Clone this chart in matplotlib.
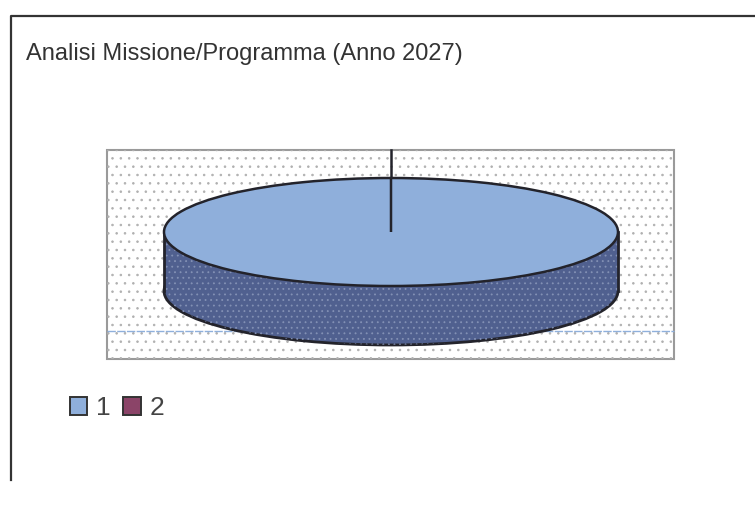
#!/usr/bin/env python3
"""Analisi Missione/Programma - scanned 3D pie look"""

import matplotlib.pyplot as plt
from matplotlib.patches import Rectangle

plt.rcParams['font.family'] = ['Liberation Sans', 'DejaVu Sans']
plt.rcParams['hatch.linewidth'] = 0.6

# dati
categories = ['1', '2']
values = [100, 0]
colors = ['#8fafdb', '#8b4468']
title = 'Analisi Missione/Programma (Anno 2027)'

W, H = 755, 507
DARK = '#23232b'
SIDE = '#50608f'
SPECK = '#8391b5'

fig = plt.figure(figsize=(W / 100, H / 100), dpi=100, facecolor='white')


def px_axes(x0, y0, x1, y1):
    # assi posizionati in pixel, origine in alto a sinistra
    return fig.add_axes([x0 / W, 1 - y1 / H, (x1 - x0) / W, (y1 - y0) / H])


# cornice esterna e titolo
bg = fig.add_axes([0, 0, 1, 1])
bg.set_xlim(0, W)
bg.set_ylim(H, 0)
bg.axis('off')
bg.plot([11, 11, W], [480, 16, 16], color='#333333', lw=1.6)
bg.text(26, 54, title, fontsize=17, color='#333333', va='center', ha='left')

# area del grafico con trama puntinata
bg.add_patch(Rectangle((107, 150), 567, 209, facecolor='white',
                       edgecolor='#9a9a9a', lw=1.5, zorder=1))
bg.add_patch(Rectangle((107, 150), 567, 209, facecolor='none',
                       edgecolor='#b0b0b0', hatch='..', lw=0, zorder=1.1))
bg.plot([107, 674], [331, 331], color='#8fb0dc', lw=1, ls=(0, (6, 1)), zorder=1.2)
bg.plot([391, 391], [150, 180], color=DARK, lw=1.8, zorder=1.3)

# torta: ellisse superiore 164-618 x 178-286, spessore 59 px
ax = px_axes(164, 178, 618, 286)
depth = 59 / 54

ax.pie(values, colors=[SIDE, SIDE], center=(0, -depth), radius=1, startangle=90,
       wedgeprops={'edgecolor': DARK, 'linewidth': 2, 'clip_on': False})
ax.pie(values, colors=['none', 'none'], center=(0, -depth), radius=0.995, startangle=90,
       wedgeprops={'edgecolor': SPECK, 'linewidth': 0, 'hatch': '...', 'clip_on': False})
ax.add_patch(Rectangle((-1, -depth), 2, depth, facecolor=SIDE, edgecolor='none',
                       clip_on=False, zorder=1.5))
ax.add_patch(Rectangle((-1, -depth), 2, depth, facecolor='none', edgecolor=SPECK, lw=0,
                       hatch='...', clip_on=False, zorder=1.55))
ax.plot([-1, -1], [-depth, 0], color=DARK, lw=2, clip_on=False, zorder=1.6)
ax.plot([1, 1], [-depth, 0], color=DARK, lw=2, clip_on=False, zorder=1.6)
wedges, _ = ax.pie(values, colors=colors, center=(0, 0), radius=1, startangle=90,
                   wedgeprops={'edgecolor': DARK, 'linewidth': 1.8, 'clip_on': False,
                               'zorder': 2})
ax.set_aspect('auto')
ax.set_xlim(-1, 1)
ax.set_ylim(-1, 1)
ax.patch.set_visible(False)

# legenda
leg = bg.legend(wedges, categories, loc='upper left', bbox_to_anchor=(70 / W, 1 - 396 / H),
                bbox_transform=fig.transFigure, ncol=2, frameon=False, fontsize=19,
                handlelength=0.65, handleheight=0.65, handletextpad=0.35, columnspacing=0.47,
                labelcolor='#444444', borderpad=0, borderaxespad=0)
for h in leg.get_patches():
    h.set_edgecolor('#333333')
    h.set_linewidth(1.4)

fig.savefig('out.png', dpi=100, facecolor='white')
plt.close(fig)
